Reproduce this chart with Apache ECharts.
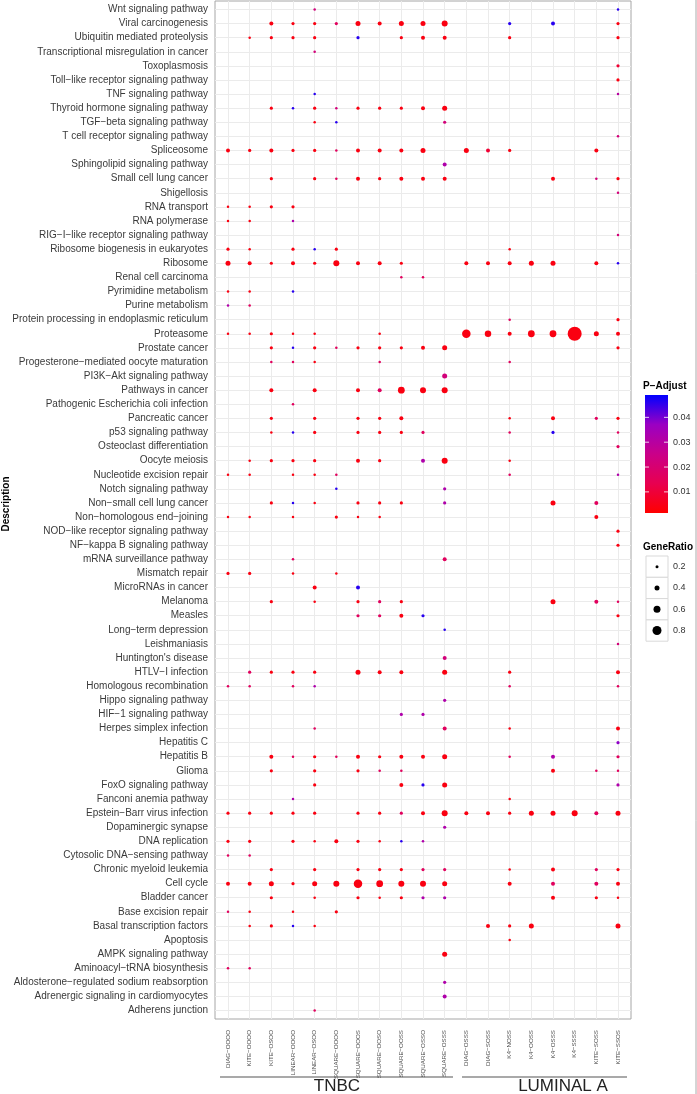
<!DOCTYPE html>
<html><head><meta charset="utf-8">
<script src="https://cdn.jsdelivr.net/npm/echarts@6/dist/echarts.min.js"></script>
<style>html,body{margin:0;padding:0;background:#fff}#c{width:697px;height:1094px}</style>
</head><body><div id="c"></div>
<script>
// Pathways, top to bottom (row numbers in the column arrays are 1-based into this list)
const pathways = [
"Wnt signaling pathway","Viral carcinogenesis","Ubiquitin mediated proteolysis","Transcriptional misregulation in cancer",
"Toxoplasmosis","Toll\u2212like receptor signaling pathway","TNF signaling pathway","Thyroid hormone signaling pathway",
"TGF\u2212beta signaling pathway","T cell receptor signaling pathway","Spliceosome","Sphingolipid signaling pathway",
"Small cell lung cancer","Shigellosis","RNA transport","RNA polymerase","RIG\u2212I\u2212like receptor signaling pathway",
"Ribosome biogenesis in eukaryotes","Ribosome","Renal cell carcinoma","Pyrimidine metabolism","Purine metabolism",
"Protein processing in endoplasmic reticulum","Proteasome","Prostate cancer","Progesterone\u2212mediated oocyte maturation",
"PI3K\u2212Akt signaling pathway","Pathways in cancer","Pathogenic Escherichia coli infection","Pancreatic cancer",
"p53 signaling pathway","Osteoclast differentiation","Oocyte meiosis","Nucleotide excision repair","Notch signaling pathway",
"Non\u2212small cell lung cancer","Non\u2212homologous end\u2212joining","NOD\u2212like receptor signaling pathway",
"NF\u2212kappa B signaling pathway","mRNA surveillance pathway","Mismatch repair","MicroRNAs in cancer","Melanoma","Measles",
"Long\u2212term depression","Leishmaniasis","Huntington's disease","HTLV\u2212I infection","Homologous recombination",
"Hippo signaling pathway","HIF\u22121 signaling pathway","Herpes simplex infection","Hepatitis C","Hepatitis B","Glioma",
"FoxO signaling pathway","Fanconi anemia pathway","Epstein\u2212Barr virus infection","Dopaminergic synapse","DNA replication",
"Cytosolic DNA\u2212sensing pathway","Chronic myeloid leukemia","Cell cycle","Bladder cancer","Base excision repair",
"Basal transcription factors","Apoptosis","AMPK signaling pathway","Aminoacyl\u2212tRNA biosynthesis",
"Aldosterone\u2212regulated sodium reabsorption","Adrenergic signaling in cardiomyocytes","Adherens junction"];

const columns = ["DIAG\u2212OOOO","KITE\u2212OOOO","KITE\u2212OSOO","LINEAR\u2212OOOO","LINEAR\u2212OSOO","SQUARE\u2212OOOO",
"SQUARE\u2212OOOS","SQUARE\u2212OOSO","SQUARE\u2212OOSS","SQUARE\u2212OSSO","SQUARE\u2212OSSS",
"DIAG\u2212OSSS","DIAG\u2212SOSS","K4\u2212NOSS","K4\u2212OOSS","K4\u2212OSSS","K4\u2212SSSS","KITE\u2212SOSS","KITE\u2212SSOS"];

const groupNames = ["TNBC","LUMINAL A"];
const pTicks = [0.01,0.02,0.03,0.04];
const ratioTicks = [0.2,0.4,0.6,0.8];
const pRange = [0.0015, 0.049];

// each entry: [row, GeneRatio, p.adjust]
const DIAG_OOOO = [[11,.3,.004],[15,.15,.004],[16,.15,.004],[18,.22,.004],[19,.4,.004],[21,.15,.004],[22,.15,.032],[24,.15,.004],[34,.15,.004],[37,.15,.004],[41,.22,.004],[49,.15,.016],[58,.22,.004],[60,.22,.004],[61,.15,.016],[63,.3,.004],[65,.15,.016],[69,.15,.016]];
const KITE_OOOO = [[3,.15,.004],[11,.22,.004],[15,.15,.004],[16,.15,.004],[18,.15,.004],[19,.3,.004],[21,.15,.004],[22,.15,.016],[24,.15,.004],[33,.15,.004],[34,.15,.004],[37,.15,.004],[41,.22,.004],[48,.22,.016],[49,.15,.016],[58,.22,.004],[60,.22,.004],[61,.15,.016],[63,.3,.004],[65,.15,.004],[66,.15,.004],[69,.15,.016]];
const KITE_OSOO = [[2,.3,.004],[3,.22,.004],[8,.22,.004],[11,.3,.004],[13,.22,.004],[15,.22,.004],[19,.22,.004],[24,.22,.004],[25,.22,.004],[26,.15,.016],[28,.3,.004],[30,.22,.004],[31,.15,.004],[33,.22,.004],[36,.22,.004],[43,.22,.004],[48,.22,.004],[54,.3,.004],[55,.22,.004],[58,.22,.004],[62,.22,.004],[63,.4,.004],[64,.22,.004],[66,.22,.004]];
const LINEAR_OOOO = [[2,.22,.004],[3,.22,.004],[8,.15,.046],[11,.22,.004],[15,.22,.004],[16,.15,.032],[18,.22,.004],[19,.3,.004],[21,.15,.046],[24,.15,.004],[25,.15,.046],[26,.15,.016],[29,.15,.016],[31,.15,.046],[33,.22,.004],[34,.15,.004],[36,.15,.046],[37,.15,.004],[40,.15,.016],[41,.15,.004],[48,.22,.004],[49,.15,.016],[54,.15,.016],[57,.15,.032],[58,.22,.004],[60,.22,.004],[63,.22,.004],[65,.15,.004],[66,.15,.046]];
const LINEAR_OSOO = [[1,.15,.022],[2,.22,.004],[3,.22,.004],[4,.15,.022],[7,.15,.046],[8,.22,.004],[9,.15,.004],[11,.22,.004],[13,.22,.004],[18,.15,.046],[19,.22,.004],[24,.15,.004],[25,.22,.004],[26,.15,.004],[28,.3,.004],[30,.22,.004],[31,.22,.004],[33,.22,.004],[34,.15,.004],[36,.15,.004],[42,.3,.004],[43,.15,.004],[48,.22,.004],[49,.15,.032],[52,.15,.016],[54,.22,.004],[55,.22,.004],[56,.22,.004],[58,.22,.004],[60,.15,.004],[62,.22,.004],[63,.4,.004],[64,.15,.004],[66,.15,.004],[72,.15,.016]];
const SQUARE_OOOO = [[2,.22,.016],[8,.15,.022],[9,.15,.046],[11,.15,.016],[13,.15,.016],[18,.22,.004],[19,.5,.004],[25,.15,.016],[34,.15,.016],[35,.15,.046],[37,.22,.004],[41,.15,.004],[54,.15,.016],[60,.3,.004],[63,.5,.004],[65,.22,.004]];
const SQUARE_OOOS = [[2,.4,.004],[3,.22,.046],[8,.22,.004],[11,.3,.004],[13,.3,.004],[19,.3,.004],[25,.22,.004],[28,.3,.004],[30,.22,.004],[31,.22,.004],[33,.3,.004],[36,.22,.004],[37,.15,.004],[42,.3,.046],[43,.22,.004],[44,.22,.016],[48,.4,.004],[54,.3,.004],[55,.22,.004],[58,.22,.004],[60,.22,.004],[62,.22,.004],[63,.75,.004],[64,.22,.004]];
const SQUARE_OOSO = [[2,.3,.004],[8,.22,.004],[11,.3,.004],[13,.22,.004],[19,.3,.004],[24,.15,.004],[25,.22,.004],[26,.15,.016],[28,.3,.016],[30,.22,.004],[31,.22,.004],[33,.22,.004],[36,.22,.004],[37,.15,.004],[43,.22,.016],[44,.22,.016],[48,.3,.004],[54,.22,.004],[55,.15,.016],[58,.22,.004],[60,.15,.004],[62,.22,.004],[63,.58,.004],[64,.15,.004]];
const SQUARE_OOSS = [[2,.4,.004],[3,.22,.004],[8,.22,.004],[11,.3,.004],[13,.3,.004],[19,.22,.004],[20,.15,.016],[25,.22,.004],[28,.58,.004],[30,.3,.004],[31,.22,.004],[36,.22,.004],[43,.22,.004],[44,.3,.004],[48,.3,.004],[51,.22,.032],[54,.3,.004],[55,.15,.016],[56,.3,.004],[58,.22,.016],[60,.15,.046],[62,.22,.004],[63,.5,.004],[64,.22,.004]];
const SQUARE_OSSO = [[2,.4,.004],[3,.3,.004],[8,.3,.004],[11,.4,.004],[13,.3,.004],[20,.15,.016],[25,.3,.004],[28,.5,.004],[31,.22,.016],[33,.3,.032],[44,.22,.046],[51,.22,.032],[54,.3,.004],[56,.22,.046],[58,.3,.004],[60,.15,.032],[62,.22,.016],[63,.5,.004],[64,.22,.032]];
const SQUARE_OSSS = [[2,.5,.004],[3,.3,.004],[8,.4,.004],[9,.22,.022],[12,.3,.032],[13,.3,.004],[25,.4,.004],[27,.4,.022],[28,.5,.004],[33,.5,.004],[35,.22,.032],[36,.22,.032],[40,.3,.016],[45,.15,.046],[47,.3,.022],[48,.4,.004],[50,.22,.032],[52,.3,.016],[54,.4,.004],[56,.4,.004],[58,.5,.004],[59,.22,.032],[62,.22,.016],[63,.4,.004],[64,.22,.032],[68,.4,.004],[70,.22,.032],[71,.3,.032]];
const DIAG_OSSS = [[11,.4,.004],[19,.3,.004],[24,.75,.004],[58,.3,.004]];
const DIAG_SOSS = [[11,.3,.009],[19,.3,.004],[24,.55,.004],[58,.3,.004],[66,.3,.004]];
const K4_NOSS = [[2,.22,.046],[3,.22,.004],[11,.22,.004],[18,.15,.004],[19,.3,.004],[23,.15,.016],[24,.3,.004],[26,.15,.016],[30,.15,.004],[31,.15,.016],[33,.15,.004],[34,.15,.016],[48,.22,.004],[49,.15,.016],[52,.15,.004],[54,.15,.016],[57,.15,.004],[58,.22,.004],[62,.15,.004],[63,.3,.004],[66,.22,.004],[67,.15,.004]];
const K4_OOSS = [[19,.4,.004],[24,.58,.004],[58,.4,.004],[66,.4,.004]];
const K4_OSSS = [[2,.3,.046],[13,.3,.004],[19,.4,.004],[24,.58,.004],[30,.3,.004],[31,.22,.046],[36,.4,.004],[43,.4,.004],[54,.3,.032],[55,.3,.004],[58,.4,.004],[62,.3,.004],[63,.3,.016],[64,.3,.004]];
const K4_SSSS = [[24,1.3,.004],[58,.5,.004]];
const KITE_SOSS = [[11,.3,.004],[13,.15,.022],[19,.3,.004],[24,.4,.004],[30,.22,.016],[36,.3,.016],[37,.3,.004],[43,.3,.016],[55,.15,.016],[58,.3,.016],[62,.22,.016],[63,.3,.016],[64,.22,.004]];
const KITE_SSOS = [[1,.15,.046],[2,.22,.004],[3,.22,.004],[5,.22,.009],[6,.22,.004],[7,.15,.03],[10,.15,.022],[13,.22,.004],[14,.15,.022],[17,.15,.022],[19,.15,.046],[23,.22,.004],[24,.3,.004],[25,.22,.004],[30,.22,.004],[31,.15,.016],[32,.22,.016],[34,.15,.032],[38,.22,.004],[39,.22,.004],[43,.15,.016],[44,.22,.004],[46,.15,.022],[48,.3,.004],[49,.15,.016],[52,.3,.004],[53,.22,.038],[54,.22,.016],[55,.15,.016],[56,.22,.032],[58,.4,.004],[62,.22,.004],[63,.3,.004],[64,.15,.004],[66,.4,.004]];

const columnData = [DIAG_OOOO,KITE_OOOO,KITE_OSOO,LINEAR_OOOO,LINEAR_OSOO,SQUARE_OOOO,SQUARE_OOOS,SQUARE_OOSO,SQUARE_OOSS,SQUARE_OSSO,SQUARE_OSSS,DIAG_OSSS,DIAG_SOSS,K4_NOSS,K4_OOSS,K4_OSSS,K4_SSSS,KITE_SOSS,KITE_SSOS];

const FONT = "'Liberation Sans', Arial, Helvetica, sans-serif";
const gradColors = ['#FF0000','#E80050','#CA0089','#9A00C3','#0000FF'];
const sizeOf = r => 10 * r + 1;

const points = [];
columnData.forEach((arr, c) => arr.forEach(d => points.push([c, d[0] - 1, d[1], d[2]])));

const colIdx = columns.map((_, i) => i);
const rowIdx = pathways.map((_, i) => i);

const chart = echarts.init(document.getElementById('c'), null, {renderer: 'canvas'});

// legend graphics
const cbX = 645, cbW = 23, cbTop = 395, cbBot = 513;
const pToY = v => cbBot - (v - pRange[0]) / (pRange[1] - pRange[0]) * (cbBot - cbTop);
const graphics = [];
graphics.push({type:'text', x:6, y:504, rotation: Math.PI/2, style:{text:'Description', x:0, y:0, font:'bold 10px ' + FONT, fill:'#000', align:'center', verticalAlign:'middle'}});
graphics.push({type:'text', style:{text:'P\u2212Adjust', x:643, y:386, font:'bold 10px ' + FONT, fill:'#000', verticalAlign:'middle'}});
graphics.push({type:'rect', shape:{x:cbX, y:cbTop, width:cbW, height:cbBot-cbTop}, style:{fill: new echarts.graphic.LinearGradient(0,1,0,0, gradColors.map((c,i)=>({offset:i/(gradColors.length-1), color:c})))}});
pTicks.forEach(v => {
  const y = pToY(v);
  graphics.push({type:'line', shape:{x1:cbX, y1:y, x2:cbX+4, y2:y}, style:{stroke:'#fff', lineWidth:1, opacity:0.8}});
  graphics.push({type:'line', shape:{x1:cbX+cbW-4, y1:y, x2:cbX+cbW, y2:y}, style:{stroke:'#fff', lineWidth:1, opacity:0.8}});
  graphics.push({type:'text', style:{text:v.toFixed(2), x:673, y:y, font:'9px ' + FONT, fill:'#333', verticalAlign:'middle'}});
});
graphics.push({type:'text', style:{text:'GeneRatio', x:643, y:547, font:'bold 10px ' + FONT, fill:'#000', verticalAlign:'middle'}});
ratioTicks.forEach((v, i) => {
  const top = 556 + i * 21.3;
  graphics.push({type:'rect', shape:{x:646, y:top, width:22, height:21.3}, style:{fill:'#fff', stroke:'#D9D9D9', lineWidth:1}});
  graphics.push({type:'circle', shape:{cx:657, cy:top + 10.65, r:sizeOf(v)/2}, style:{fill:'#000'}});
  graphics.push({type:'text', style:{text:String(v), x:673, y:top + 10.65, font:'9px ' + FONT, fill:'#333', verticalAlign:'middle'}});
});
// group brackets
graphics.push({type:'line', shape:{x1:220, y1:1077, x2:453, y2:1077}, style:{stroke:'#555', lineWidth:1.2}});
graphics.push({type:'line', shape:{x1:462, y1:1077, x2:627, y2:1077}, style:{stroke:'#555', lineWidth:1.2}});
graphics.push({type:'text', style:{text:groupNames[0], x:337, y:1086, font:'17px ' + FONT, fill:'#222', align:'center', verticalAlign:'middle'}});
graphics.push({type:'text', style:{text:groupNames[1], x:563, y:1086, font:'17px ' + FONT, fill:'#222', align:'center', verticalAlign:'middle'}});
graphics.push({type:'line', shape:{x1:696, y1:0, x2:696, y2:1094}, style:{stroke:'#AAAAAA', lineWidth:1}});

const option = {
  animation: false,
  backgroundColor: '#fff',
  textStyle: {fontFamily: FONT},
  grid: {left: 215, right: 66, top: 1, bottom: 75, show: true, borderColor: '#A6A6A6', borderWidth: 1, backgroundColor: '#fff', outerBoundsMode: 'none', containLabel: false},
  xAxis: {
    type: 'value', min: -0.6, max: columns.length - 0.4,
    axisLine: {show: false},
    splitLine: {show: false},
    axisTick: {show: true, length: 3, customValues: colIdx, lineStyle: {color: '#333'}},
    axisLabel: {customValues: colIdx, rotate: 90, fontSize: 6.2, color: '#4D4D4D', margin: 11, fontFamily: FONT,
      formatter: v => columns[Math.round(v)] || ''}
  },
  yAxis: {
    type: 'value', min: -0.6, max: pathways.length - 0.4, inverse: true,
    axisLine: {show: false},
    splitLine: {show: false},
    axisTick: {show: true, length: 3, customValues: rowIdx, lineStyle: {color: '#333'}},
    axisLabel: {customValues: rowIdx, fontSize: 10, color: '#3A3A3A', margin: 7, fontFamily: FONT,
      formatter: v => pathways[Math.round(v)] || ''}
  },
  visualMap: {show: false, type: 'continuous', dimension: 3, min: pRange[0], max: pRange[1], seriesIndex: 1,
    inRange: {color: gradColors}},
  series: [{
    type: 'scatter',
    data: [],
    z: 1,
    silent: true,
    markLine: {
      silent: true, symbol: ['none','none'], label: {show: false}, animation: false, z: 1,
      lineStyle: {color: '#EBEBEB', width: 1, type: 'solid'},
      emphasis: {disabled: true},
      data: colIdx.map(i => ({xAxis: i})).concat(rowIdx.map(i => ({yAxis: i})))
    }
  }, {
    type: 'scatter',
    data: points,
    symbol: 'circle',
    symbolSize: v => sizeOf(v[2]),
    z: 5,
    itemStyle: {opacity: 1}
  }],
  graphic: graphics
};
chart.setOption(option);
</script>
</body></html>
